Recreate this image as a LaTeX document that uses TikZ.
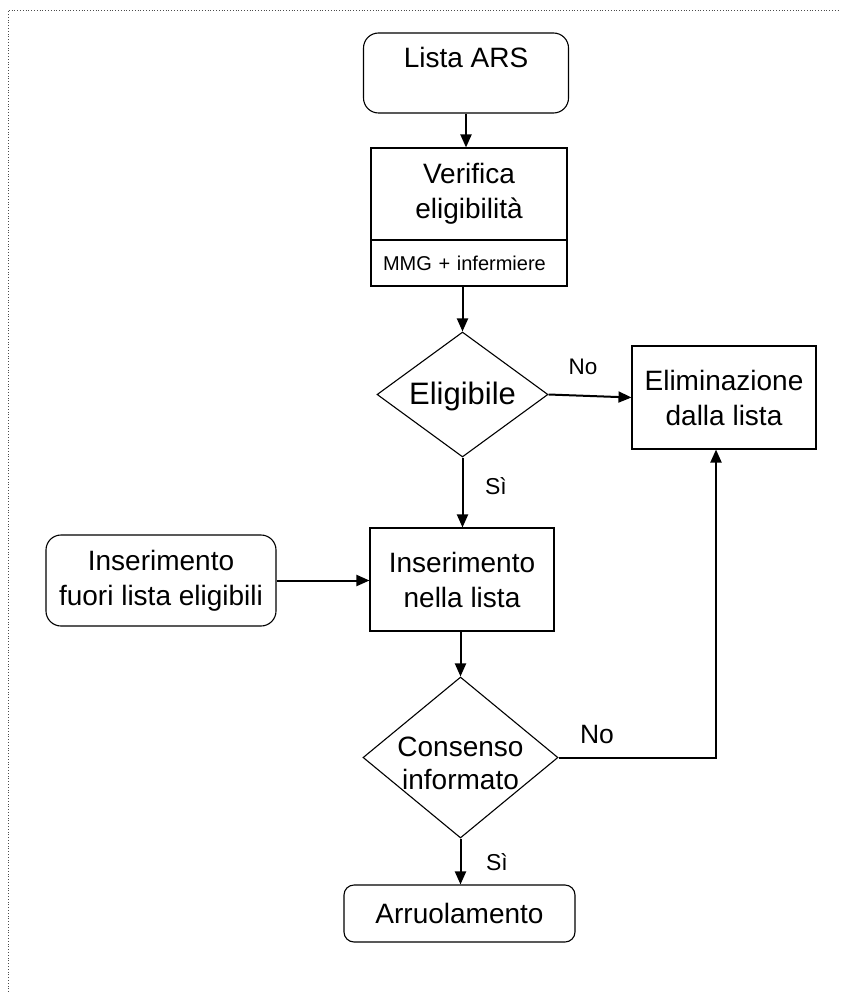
\documentclass[tikz,border=0pt]{standalone}
\usepackage{fontspec}
\setmainfont{Liberation Sans}
\usetikzlibrary{shapes.geometric,arrows.meta}

\begin{document}
\begin{tikzpicture}[
    x=1pt, y=-1pt,
    startbox/.style={rectangle, rounded corners=15pt, draw=black, line width=1.1pt,
        align=center, inner sep=0pt, font=\fontsize{28}{35}\selectfont},
    procbox/.style={rectangle, draw=black, line width=1.1pt,
        align=center, inner sep=0pt, font=\fontsize{28}{35}\selectfont},
    choice/.style={diamond, draw=black, line width=1.1pt, inner sep=0pt},
    edge/.style={line width=2pt, -{Triangle[length=13pt,width=11pt]}},
    tag/.style={font=\fontsize{23}{23}\selectfont}
]
    \useasboundingbox (0,0) rectangle (840,992);
    \draw[dotted, line width=0.8pt, black!70] (8,992) -- (8,10) -- (840,10);

    \node[startbox, minimum width=205pt, minimum height=80pt,
        text height=20pt, text depth=30pt] (lista) at (466,73) {Lista ARS};
    \node[procbox, minimum width=196pt, minimum height=92pt] (verifica) at (469,194) {Verifica\\eligibilità};
    \node[procbox, minimum width=196pt, minimum height=46pt, text width=172pt, align=left,
        font=\fontsize{20}{20}\selectfont] (operatori) at (469,263) {MMG + infermiere};
    \node[choice, minimum width=171pt, minimum height=125pt,
        label={[font=\fontsize{31}{31}\selectfont, yshift=-2pt]center:Eligibile}] (eligibile) at (462.5,394.5) {};
    \node[procbox, minimum width=184pt, minimum height=103pt] (elimina) at (724,397.5) {Eliminazione\\dalla lista};
    \node[procbox, minimum width=184pt, minimum height=103pt] (inserisci) at (462,579.5) {Inserimento\\nella lista};
    \node[startbox, minimum width=230pt, minimum height=91pt] (fuori) at (161,580.5) {Inserimento\\fuori lista eligibili};
    \node[choice, minimum width=195pt, minimum height=161pt,
        label={[align=center, font=\fontsize{28}{33}\selectfont, yshift=-6pt]center:Consenso\\informato}] (consenso) at (460.5,757.5) {};
    \node[startbox, minimum width=231pt, minimum height=57pt, rounded corners=10pt] (arruola) at (459.5,913.5) {Arruolamento};

    \draw[edge] (lista.south) -- (lista.south |- verifica.north);
    \draw[edge] (eligibile.north |- operatori.south) -- (eligibile.north);
    \draw[edge] (eligibile.east) -- (elimina.west);
    \draw[edge] (eligibile.south) -- (eligibile.south |- inserisci.north);
    \draw[edge] (fuori.east) -- (fuori.east -| inserisci.west);
    \draw[edge] (consenso.north |- inserisci.south) -- (consenso.north);
    \draw[edge] (consenso.east) -| ([xshift=-8pt]elimina.south);
    \draw[edge] (consenso.south) -- (consenso.south |- arruola.north);

    \node[tag, font=\fontsize{22.5}{22.5}\selectfont] (noA) at (583,367) {No};
    \node[tag] (siA) at (496,486) {Sì};
    \node[tag, font=\fontsize{26.5}{26.5}\selectfont] (noB) at (597,735) {No};
    \node[tag] (siB) at (497,862) {Sì};
\end{tikzpicture}
\end{document}
